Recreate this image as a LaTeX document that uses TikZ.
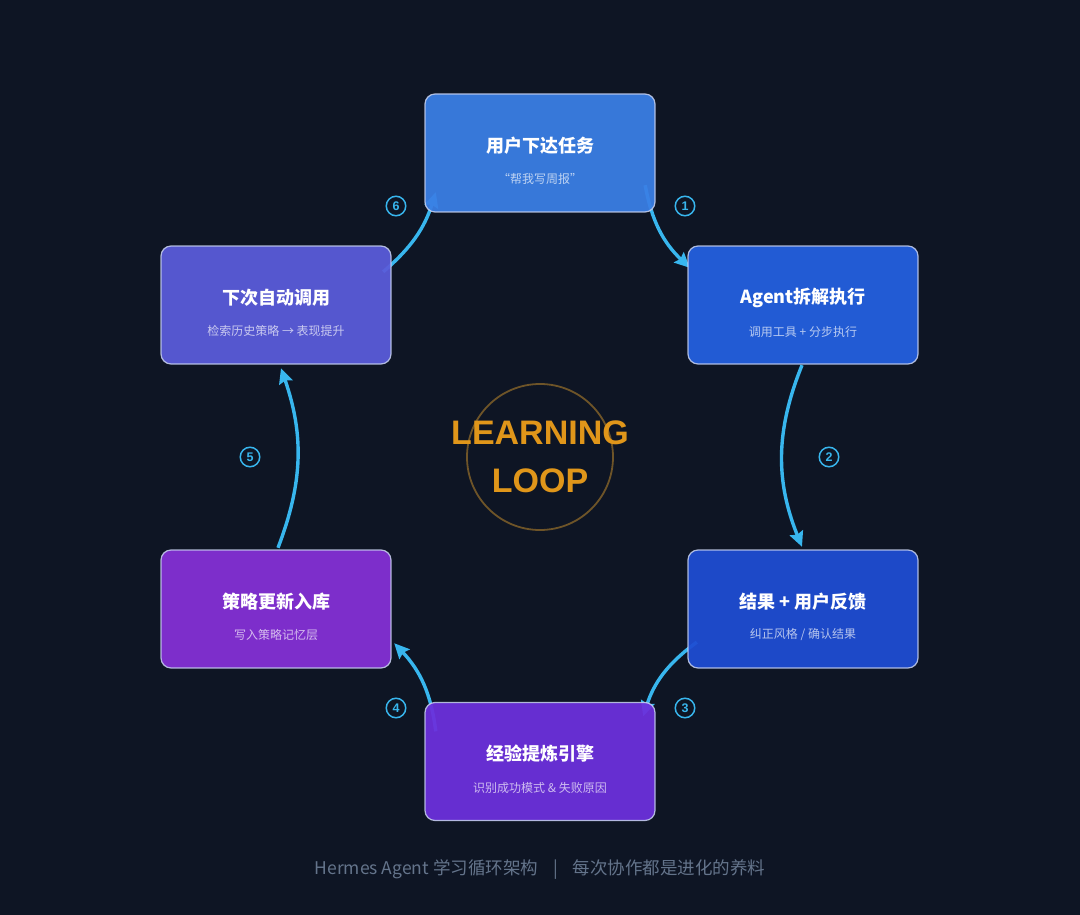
\documentclass[tikz,border=0pt]{standalone}
\usepackage{fontspec}
\usetikzlibrary{arrows.meta,calc}
\newfontfamily\cjk{Noto Sans CJK SC}
\newfontfamily\latinb{Liberation Sans}
\definecolor{bg}{HTML}{0E1524}
\definecolor{sky}{HTML}{38B6EE}
\definecolor{cT}{HTML}{3A7FE5}
\definecolor{cA}{HTML}{2460DF}
\definecolor{cR}{HTML}{1E4DD3}
\definecolor{cB}{HTML}{6C30DC}
\definecolor{cL}{HTML}{8430D6}
\definecolor{cU}{HTML}{5A5CDA}
\definecolor{edge}{HTML}{C8D2F0}
\definecolor{orng}{HTML}{E0961A}
\definecolor{ring}{HTML}{6E5428}
\definecolor{foot}{HTML}{64748B}
\tikzset{
  box/.style={rectangle, rounded corners=10pt, minimum width=230pt, minimum height=118pt,
    draw=edge, line width=1.2pt, fill opacity=0.94, draw opacity=0.85},
  ttl/.style={text=white, font=\cjk\bfseries\fontsize{18}{18}\selectfont, inner sep=0pt},
  sub/.style={text=white, text opacity=0.68, font=\cjk\fontsize{12}{12}\selectfont, inner sep=0pt},
  flow/.style={draw=sky, line width=3.4pt, -{Stealth[length=15pt,width=14pt,inset=2pt]}},
  num/.style={circle, draw=sky, line width=1.5pt, minimum size=19.5pt, inner sep=0pt, text=sky,
    font=\latinb\bfseries\fontsize{12.5}{12.5}\selectfont},
  big/.style={text=orng, font=\latinb\bfseries\fontsize{34}{34}\selectfont, inner sep=0pt}
}
\begin{document}
\begin{tikzpicture}[x=1pt,y=1pt]
\fill[bg] (0,0) rectangle (1080,-915);
\useasboundingbox (0,0) rectangle (1080,-915);
% centre ring
\node[circle, draw=ring, line width=1.8pt, minimum size=146pt, inner sep=0pt] (ring) at (540,-457) {};
\node[big] (w1) at (540,-433) {LEARNING};
\node[big] (w2) at (540,-481) {LOOP};
% box positions
\coordinate (pT) at (540,-153);
\coordinate (pA) at (803,-305);
\coordinate (pR) at (803,-609);
\coordinate (pB) at (540,-761.5);
\coordinate (pL) at (276,-609);
\coordinate (pU) at (276,-305);
% invisible geometry nodes for anchors
\begin{scope}[every node/.style={rectangle, minimum width=230pt, minimum height=118pt, inner sep=0pt}]
\node (gT) at (pT) {};
\node (gA) at (pA) {};
\node (gR) at (pR) {};
\node (gB) at (pB) {};
\node (gL) at (pL) {};
\node (gU) at (pU) {};
\end{scope}
% arrows (drawn beneath boxes)
\draw[flow] ($(gT.south east)+(-10,27)$) to[bend right=18] ($(gA.north west)+(2,-22)$);
\draw[flow] ($(gA.south)+(-1,-1)$) to[bend right=22] ($(gR.north)+(-1,3)$);
\draw[flow] ($(gR.south west)+(9,26)$) to[bend right=18] ($(gB.north east)+(-12,-14)$);
\draw[flow] ($(gB.north west)+(11,-29)$) to[bend right=18] ($(gL.south east)+(3,25)$);
\draw[flow] ($(gL.north)+(2,2)$) to[bend right=20] ($(gU.south)+(5,-4)$);
\draw[flow] ($(gU.north east)+(-8,-26)$) to[bend right=16] ($(gT.south west)+(11,20)$);
% boxes
\node[box, fill=cT] (T) at (pT) {};
\node[box, fill=cA] (A) at (pA) {};
\node[box, fill=cR] (R) at (pR) {};
\node[box, fill=cB] (B) at (pB) {};
\node[box, fill=cL] (L) at (pL) {};
\node[box, fill=cU] (U) at (pU) {};
% texts
\node[ttl] (Tt) at ($(T)+(0,7)$) {用户下达任务};
\node[sub] (Ts) at ($(T)+(0,-26)$) {“帮我写周报”};
\node[ttl] (At) at ($(A)+(0,7)$) {Agent拆解执行};
\node[sub] (As) at ($(A)+(0,-27)$) {调用工具 + 分步执行};
\node[ttl] (Rt) at ($(R)+(0,7)$) {结果 + 用户反馈};
\node[sub] (Rs) at ($(R)+(0,-26)$) {纠正风格 / 确认结果};
\node[ttl] (Bt) at ($(B)+(0,7.5)$) {经验提炼引擎};
\node[sub] (Bs) at ($(B)+(0,-26.5)$) {识别成功模式 \& 失败原因};
\node[ttl] (Lt) at ($(L)+(0,7)$) {策略更新入库};
\node[sub] (Ls) at ($(L)+(0,-26)$) {写入策略记忆层};
\node[ttl] (Ut) at ($(U)+(0,7)$) {下次自动调用};
\node[sub] (Us) at ($(U)+(0,-26)$) {检索历史策略 → 表现提升};
% step numbers
\node[num] (n1) at (685,-206) {1};
\node[num] (n2) at (829,-457) {2};
\node[num] (n3) at (685,-708) {3};
\node[num] (n4) at (396,-708) {4};
\node[num] (n5) at (250,-457) {5};
\node[num] (n6) at (396,-206) {6};
% footer
\node[text=foot, font=\cjk\fontsize{17.5}{17.5}\selectfont, inner sep=0pt] (foot) at (540,-870)
  {Hermes Agent 学习循环架构\hspace{15pt}|\hspace{15pt}每次协作都是进化的养料};
\end{tikzpicture}
\end{document}
